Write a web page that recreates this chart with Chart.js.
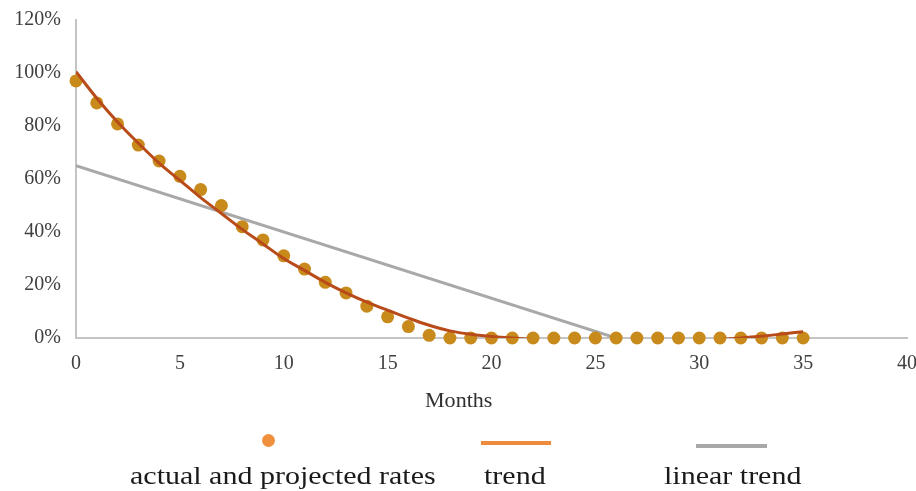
<!DOCTYPE html>
<html>
<head>
<meta charset="utf-8">
<script src="https://cdn.jsdelivr.net/npm/chart.js@4/dist/chart.umd.min.js"></script>
<style>
  body { margin: 0; background: #fff; }
  #wrap { position: relative; width: 916px; height: 491px; overflow: hidden; }
  .key { position: absolute; }
  .lbl {
    position: absolute; font-family: "Liberation Serif", serif; font-size: 25px;
    line-height: 25px; color: #1a1a1a; white-space: nowrap;
    transform: scaleX(1.2); transform-origin: left top;
  }
  #xtitle {
    position: absolute; left: 425px; top: 390px; font-family: "Liberation Serif", serif;
    font-size: 21px; line-height: 21px; color: #303030;
    transform: scaleX(1.05); transform-origin: left top;
  }
</style>
</head>
<body>
<div id="wrap">
  <canvas id="chart" width="916" height="491"></canvas>
  <div id="xtitle">Months</div>
  <!-- legend: symbol above label -->
  <div class="key" style="left:262px;top:434px;width:13px;height:13px;border-radius:50%;background:#F0903C;"></div>
  <div class="key" style="left:481px;top:441px;width:70px;height:4px;background:#EE8A3A;"></div>
  <div class="key" style="left:696px;top:444px;width:71px;height:4px;background:#A8A8A8;"></div>
  <div class="lbl" style="left:130px;top:463px;">actual and projected rates</div>
  <div class="lbl" style="left:484px;top:463px;">trend</div>
  <div class="lbl" style="left:664px;top:463px;">linear trend</div>
</div>
<script>
//months on the x axis
const months = [0, 1, 2, 3, 4, 5, 6, 7, 8, 9, 10, 11, 12, 13, 14, 15, 16, 17,
  18, 19, 20, 21, 22, 23, 24, 25, 26, 27, 28, 29, 30, 31, 32, 33, 34, 35];

//actual and projected rates (%)
const rates = [97, 88.7, 80.8, 72.8, 66.8, 61, 56, 50, 42, 37, 31, 26, 21, 17, 12, 8, 4.3, 1,
  0, 0, 0, 0, 0, 0, 0, 0, 0, 0, 0, 0, 0, 0, 0, 0, 0, 0];

//polynomial trend (below 0 is clipped by the axis)
const trend = [100.5, 90.5, 81.5, 73.5, 66, 59.5, 53, 47, 41, 35.5, 30, 25.5, 21, 17, 13.5, 10.5, 7.5, 4.8,
  2.7, 1.4, 0.6, 0, -0.6, -1.2, -1.6, -1.9, -2, -2, -1.9, -1.6, -1.2, -0.6, 0, 0.7, 1.5, 2.4];

//linear trend end points
const linearX = [0, 35];
const linear = [65, -22.5];

const yTicks = [0, 20, 40, 60, 80, 100, 120];

const serif = "'Liberation Serif', 'Times New Roman', serif";

let ctx = document.getElementById('chart').getContext('2d');

let chart = new Chart(ctx, {
  type: 'scatter',
  data: {
    datasets: [{
      label: 'trend',
      data: months.map((m, i) => ({x: m, y: trend[i]})),
      showLine: true,
      borderColor: '#B84B19',
      borderWidth: 3,
      pointRadius: 0,
      tension: 0.4,
      clip: 0,
      order: 1
    }, {
      label: 'actual and projected rates',
      data: months.map((m, i) => ({x: m, y: rates[i]})),
      backgroundColor: '#C98A1C',
      borderWidth: 0,
      pointRadius: 6.5,
      clip: false,
      order: 2
    }, {
      label: 'linear trend',
      data: linearX.map((m, i) => ({x: m, y: linear[i]})),
      showLine: true,
      borderColor: '#A8A8A8',
      borderWidth: 3,
      pointRadius: 0,
      clip: 0,
      order: 3
    }]
  },
  options: {
    responsive: false,
    animation: false,
    devicePixelRatio: 1,
    layout: { padding: { top: 20, right: 9, left: 0, bottom: 0 } },
    plugins: { legend: { display: false }, tooltip: { enabled: false } },
    scales: {
      x: {
        type: 'linear', min: 0, max: 40,
        grid: { display: false, drawTicks: false },
        border: { display: true, color: '#C4C4C4', width: 2 },
        ticks: { stepSize: 5, padding: 14, color: '#404040', font: { family: serif, size: 20 } },
        //let the "40" label run past the edge like the original
        afterFit: s => { s.height = 153; s.paddingRight = 0; s.paddingLeft = 0; }
      },
      y: {
        min: 0, max: 120,
        grid: { display: false, drawTicks: false },
        border: { display: true, color: '#C4C4C4', width: 2 },
        afterBuildTicks: s => { s.ticks = yTicks.map(v => ({value: v})); },
        ticks: {
          padding: 15, color: '#404040', font: { family: serif, size: 20 },
          callback: v => v + '%'
        },
        afterFit: s => { s.width = 76; s.paddingTop = 0; s.paddingBottom = 0; }
      }
    }
  }
});
</script>
</body>
</html>
